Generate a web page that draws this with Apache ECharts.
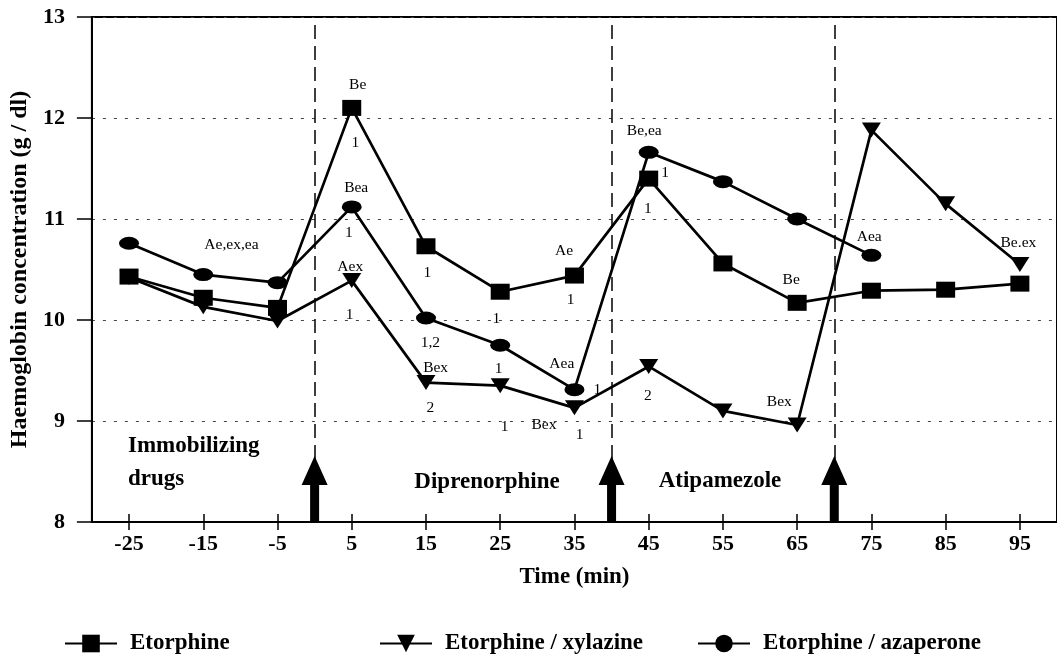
<!DOCTYPE html>
<html>
<head>
<meta charset="utf-8">
<script src="https://cdn.jsdelivr.net/npm/echarts@6/dist/echarts.min.js"></script>
<style>
  html, body { margin: 0; padding: 0; background: #fff; }
  #chart { width: 1057px; height: 654px; }
</style>
</head>
<body>
<div id="chart"></div>
<script>
// Sampling times (min) relative to drug administration
const times = [-25, -15, -5, 5, 15, 25, 35, 45, 55, 65, 75, 85, 95];

// Haemoglobin concentration (g/dl) per treatment group
const etorphine = [10.43, 10.22, 10.12, 12.10, 10.73, 10.28, 10.44, 11.40, 10.56, 10.17, 10.29, 10.30, 10.36];
const xylazine  = [10.42, 10.13, 9.99, 10.39, 9.38, 9.35, 9.13, 9.54, 9.10, 8.96, 11.88, 11.15, 10.55];
const azaperone = [10.76, 10.45, 10.37, 11.12, 10.02, 9.75, 9.31, 11.66, 11.37, 11.00, 10.64, null, null];

const seriesNames = ['Etorphine', 'Etorphine / xylazine', 'Etorphine / azaperone'];

// Times at which a drug was given (arrows)
const drugTimes = [0, 40, 70];

// Statistical notes: [time, concentration, text]
const notes = [
  [-11.2, 10.74, 'Ae,ex,ea'],
  [5.8, 12.33, 'Be'], [5.5, 11.75, '1'],
  [5.6, 11.31, 'Bea'], [4.6, 10.86, '1'],
  [4.8, 10.53, 'Aex'], [4.7, 10.05, '1'],
  [15.2, 10.47, '1'], [24.5, 10.01, '1'],
  [33.6, 10.68, 'Ae'], [34.5, 10.20, '1'],
  [44.4, 11.87, 'Be,ea'], [47.2, 11.46, '1'], [44.9, 11.10, '1'],
  [74.7, 10.82, 'Aea'], [94.8, 10.76, 'Be.ex'], [64.2, 10.40, 'Be'],
  [15.6, 9.77, '1,2'], [16.3, 9.53, 'Bex'], [24.8, 9.52, '1'],
  [33.3, 9.57, 'Aea'], [38.1, 9.31, '1'],
  [15.6, 9.13, '2'], [25.6, 8.94, '1'], [30.9, 8.96, 'Bex'], [35.7, 8.86, '1'],
  [44.9, 9.25, '2'], [62.6, 9.19, 'Bex']
];

// Phase labels along the bottom of the plot (pixel placement)
const phaseLabels = [
  { text: 'Immobilizing', x: 128, y: 446, align: 'left' },
  { text: 'drugs', x: 128, y: 479, align: 'left' },
  { text: 'Diprenorphine', x: 487, y: 482, align: 'center' },
  { text: 'Atipamezole', x: 720, y: 481, align: 'center' }
];

const FONT = '"Liberation Serif", "Times New Roman", serif';
const ellipsePath = 'path://M0,5a10,5 0 1,0 20,0a10,5 0 1,0 -20,0z';

const pair = (arr) => times.map((t, i) => [t, arr[i]]).filter(p => p[1] != null);

function lineSeries(name, arr, symbol, size, rotate, z) {
  return {
    name, type: 'line', data: pair(arr), symbol, symbolSize: size, symbolRotate: rotate,
    showSymbol: true, z,
    lineStyle: { color: '#000', width: 2.7 },
    itemStyle: { color: '#000' },
    emphasis: { disabled: true },
    animation: false
  };
}

const chart = echarts.init(document.getElementById('chart'), null, { renderer: 'canvas' });

const legendBase = {
  orient: 'horizontal', top: 627, itemWidth: 52, itemHeight: 22, itemGap: 10, selectedMode: false,
  textStyle: { fontFamily: FONT, fontWeight: 'bold', fontSize: 23, color: '#000', padding: [0, 0, 0, 8] }
};

chart.setOption({
  animation: false,
  backgroundColor: '#fff',
  grid: { left: 90, top: 17, width: 976, height: 505, show: true, borderColor: '#000', borderWidth: 2, backgroundColor: 'transparent' },
  legend: [
    Object.assign({}, legendBase, { left: 59, data: [seriesNames[0]] }),
    Object.assign({}, legendBase, { left: 374, data: [seriesNames[1]] }),
    Object.assign({}, legendBase, { left: 692, data: [seriesNames[2]] })
  ],
  xAxis: [
    {
      type: 'value', min: -30, max: 100, position: 'bottom',
      name: 'Time (min)', nameLocation: 'middle', nameGap: 44,
      nameTextStyle: { fontFamily: FONT, fontWeight: 'bold', fontSize: 23, color: '#000' },
      axisLine: { show: true, onZero: false, lineStyle: { color: '#000', width: 2 } },
      axisTick: { show: true, inside: false, length: 8, lineStyle: { color: '#000', width: 1.5 }, customValues: times },
      axisLabel: { show: true, margin: 11, fontFamily: FONT, fontWeight: 'bold', fontSize: 22, color: '#000', customValues: times },
      splitLine: { show: false }
    },
    {
      type: 'value', min: -30, max: 100, position: 'bottom',
      axisLine: { show: false, onZero: false },
      axisTick: { show: true, inside: true, length: 8, lineStyle: { color: '#000', width: 1.5 }, customValues: times },
      axisLabel: { show: false },
      splitLine: { show: false }
    }
  ],
  yAxis: {
    type: 'value', min: 8, max: 13, interval: 1,
    name: 'Haemoglobin concentration (g / dl)', nameLocation: 'middle', nameGap: 52, nameRotate: 90,
    nameTextStyle: { fontFamily: FONT, fontWeight: 'bold', fontSize: 24, color: '#000' },
    axisLine: { show: true, onZero: false, lineStyle: { color: '#000', width: 2 } },
    axisTick: { show: true, inside: false, length: 15, lineStyle: { color: '#000', width: 1.5 } },
    axisLabel: { margin: 27, fontFamily: FONT, fontWeight: 'bold', fontSize: 22, color: '#000' },
    splitLine: { show: true, lineStyle: { color: '#444', width: 1, type: [3, 8] } }
  },
  graphic: phaseLabels.map(p => ({
    type: 'text', x: p.x, y: p.y, silent: true,
    style: {
      text: p.text, fontFamily: FONT, fontWeight: 'bold', fontSize: 23, fill: '#000',
      align: p.align, verticalAlign: 'middle'
    }
  })),
  series: [
    lineSeries(seriesNames[1], xylazine, 'triangle', [19, 15], 180, 3),
    lineSeries(seriesNames[0], etorphine, 'rect', [19, 16], 0, 4),
    lineSeries(seriesNames[2], azaperone, ellipsePath, [20, 13], 0, 5),
    {
      // drug administration arrows with dashed guide lines
      type: 'custom', z: 6, silent: true,
      data: drugTimes.map(t => [t, 8]),
      renderItem: (params, api) => {
        const p = api.coord([api.value(0), api.value(1)]);
        const x = p[0], y = p[1];
        return {
          type: 'polygon',
          shape: { points: [
            [x - 4.5, y], [x + 4.5, y], [x + 4.5, y - 37], [x + 13, y - 37],
            [x, y - 66], [x - 13, y - 37], [x - 4.5, y - 37]
          ] },
          style: { fill: '#000' }
        };
      },
      markLine: {
        silent: true, symbol: 'none', label: { show: false },
        lineStyle: { color: '#000', width: 1.5, type: [14, 7] },
        data: drugTimes.map(t => ({ xAxis: t }))
      }
    },
    {
      type: 'scatter', z: 7, silent: true, symbolSize: 1,
      itemStyle: { color: 'rgba(0,0,0,0)' },
      data: notes.map(n => ({ value: [n[0], n[1]], name: n[2] })),
      label: {
        show: true, position: 'inside', formatter: '{b}',
        fontFamily: FONT, fontSize: 15.5, color: '#000', opacity: 1
      }
    }
  ]
});
</script>
</body>
</html>
